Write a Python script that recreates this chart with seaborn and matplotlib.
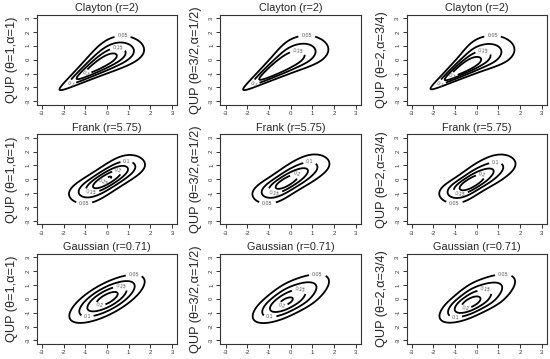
import math
import numpy as np
import matplotlib
matplotlib.use('Agg')
import matplotlib.pyplot as plt
import seaborn as sns

# ---- data ----
copulas = ['Clayton', 'Frank', 'Gaussian']
copula_params = [2.0, 5.75, 0.71]
param_labels = ['2', '5.75', '0.71']
theta_labels = ['1', '3/2', '2']
alpha_labels = ['1', '1/2', '3/4']
# QUP margin shape (scale, skew) per column (estimated)
margin_scale = [1.0, 1.05, 1.03]
margin_skew = [0.0, -0.08, -0.12]
# contour levels drawn in each panel (rows: copulas, cols: QUP settings)
levels_clayton = [[0.05, 0.1, 0.15, 0.2, 0.25], [0.05, 0.1, 0.15], [0.05, 0.1, 0.15, 0.2]]
levels_frank = [[0.05, 0.1, 0.15, 0.2, 0.25], [0.05, 0.1, 0.15, 0.2], [0.05, 0.1, 0.15, 0.2]]
levels_gauss = [[0.05, 0.1, 0.15, 0.2], [0.05, 0.1, 0.15, 0.2], [0.05, 0.1, 0.15, 0.2]]
panel_levels = [levels_clayton, levels_frank, levels_gauss]
# which side of each contour carries its label first (top for Clayton/Gaussian, bottom for Frank)
label_first_top = [True, False, True]
ticks = [-3, -2, -1, 0, 1, 2, 3]

sns.set_theme(style='white')
plt.rcParams['font.family'] = ['Liberation Sans', 'DejaVu Sans']

erf = np.vectorize(math.erf)


def Phi(z):
    return 0.5 * (1.0 + erf(z / math.sqrt(2.0)))


def phi(z):
    return np.exp(-0.5 * z * z) / math.sqrt(2 * math.pi)


def copula_density(name, p, u1, u2, z1, z2):
    if name == 'Clayton':
        t = p
        return (1 + t) * (u1 * u2) ** (-1 - t) * (u1 ** -t + u2 ** -t - 1) ** (-2 - 1 / t)
    if name == 'Frank':
        t = p
        e = 1 - math.exp(-t)
        num = t * e * np.exp(-t * (u1 + u2))
        den = (e - (1 - np.exp(-t * u1)) * (1 - np.exp(-t * u2))) ** 2
        return num / den
    r = p
    q = (r * r * (z1 ** 2 + z2 ** 2) - 2 * r * z1 * z2) / (2 * (1 - r * r))
    return np.exp(-q) / math.sqrt(1 - r * r)


def density(name, p, a, k, s=0.5):
    z = np.linspace(-4.2, 4.2, 500)
    x = a * (z + k * (s - np.sqrt(s * s + z * z)))
    dx = a * (1 - k * z / np.sqrt(s * s + z * z))
    u = Phi(z)
    u = np.clip(u, 1e-12, 1 - 1e-12)
    Z1, Z2 = np.meshgrid(z, z)
    U1, U2 = np.meshgrid(u, u)
    c = copula_density(name, p, U1, U2, Z1, Z2)
    D1, D2 = np.meshgrid(dx, dx)
    f = c * phi(Z1) * phi(Z2) / (D1 * D2)
    X, Y = np.meshgrid(x, x)
    return X, Y, f


W, H = 550, 359
fig = plt.figure(figsize=(W / 100, H / 100), dpi=100)
lefts = [36.7, 220.3, 406.5]
tops = [14.7, 134.3, 253.8]
bw, bh = 140.6, 90.0

for i, name in enumerate(copulas):
    for j in range(3):
        ax = fig.add_axes([lefts[j] / W, 1 - (tops[i] + bh) / H, bw / W, bh / H])
        X, Y, F = density(name, copula_params[i], margin_scale[j], margin_skew[j])
        cs = ax.contour(X, Y, F, levels=panel_levels[i][j], colors='black', linewidths=1.3)
        # label positions: flattest points (top / bottom) of each contour, alternating
        positions = []
        for li, segs in enumerate(cs.allsegs):
            segs = [s for s in segs if len(s) > 2]
            if not segs:
                continue
            pts = np.concatenate(segs)
            top = (li % 2 == 0) == label_first_top[i]
            idx = np.argmax(pts[:, 1]) if top else np.argmin(pts[:, 1])
            positions.append((pts[idx, 0], pts[idx, 1]))
        ax.clabel(cs, inline=True, fontsize=3.8, fmt='%g', colors='#555555',
                  inline_spacing=1, manual=positions)
        ax.set_xlim(-3.24, 3.24)
        ax.set_ylim(-3.24, 3.24)
        ax.set_xticks(ticks)
        ax.set_yticks(ticks)
        ax.set_xticklabels([str(t) for t in ticks])
        ax.set_yticklabels([str(t) for t in ticks], rotation=90, va='center')
        ax.tick_params(direction='out', length=3, width=0.7, labelsize=4.3, pad=1.5,
                       colors='#333333', left=True, bottom=True)
        for sp in ax.spines.values():
            sp.set_linewidth(0.8)
            sp.set_color('#333333')
            sp.set_visible(True)
        ax.set_facecolor('white')
        ax.set_title(f'{name} (r={param_labels[i]})', fontsize=7.8, pad=2.5)
        ax.set_ylabel(f'QUP (θ={theta_labels[j]},α={alpha_labels[j]})', fontsize=9.2, va='center')
        ax.yaxis.set_label_coords(-0.175, 0.5)

fig.savefig('out.png', dpi=100, facecolor='white')
